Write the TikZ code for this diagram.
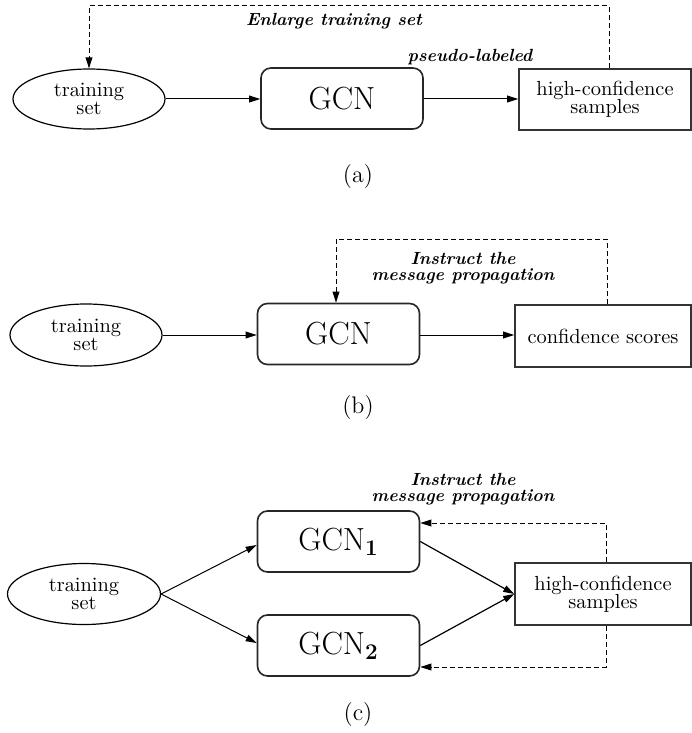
\documentclass[tikz,border=0pt]{standalone}
\usepackage{fontspec}
\usetikzlibrary{shapes.geometric,arrows.meta}
\begin{document}
\begin{tikzpicture}[x=0.5pt,y=-0.5pt,
 txt/.style={font=\fontsize{10.2}{9.2}\selectfont, align=center},
 ell/.style={ellipse, draw, line width=0.6pt, inner sep=0pt, minimum width=76pt, minimum height=30pt, txt},
 gcn/.style={rectangle, draw, rounded corners=5pt, line width=0.8pt, draw=black!85, minimum width=81pt, minimum height=30.5pt, font=\fontsize{16}{18}\selectfont},
 outbox/.style={rectangle, draw, line width=0.8pt, draw=black!80, minimum width=86pt, minimum height=30.5pt, txt},
 lab/.style={font=\fontsize{8.8}{7.8}\selectfont\bfseries\itshape, align=center, inner sep=0pt},
 arr/.style={-{Triangle[length=5.5pt,width=3.4pt]}, line width=0.5pt},
 dsh/.style={arr, dash pattern=on 2.4pt off 1.6pt},
 sublabel/.style={font=\fontsize{12}{14}\selectfont}]
\useasboundingbox (0,0) rectangle (691,733);

% ---------- (a)
\node[ell] (ta) at (89,99) {training\\set};
\node[gcn] (ga) at (342,98.5) {GCN};
\node[outbox] (ha) at (605,99.5) {high-confidence\\samples};
\draw[arr] (ta.east) -- (ga.west |- ta.east);
\draw[arr] (ga.east |- ta.east) -- (ha.west |- ta.east);
\coordinate (ua) at (609,6);
\coordinate (va) at (89,6);
\draw[dsh] (ha.north -| ua) -- (ua) -- (va) -- (ta.north);
\node[lab] (ea) at (334,21) {Enlarge training set};
\node[lab] (pa) at (470,57) {pseudo-labeled};
\node[sublabel] (ca) at (358,177) {(a)};

% ---------- (b)
\node[ell, minimum height=31pt] (tb) at (86,335) {training\\set};
\node[gcn] (gb) at (338.5,334) {GCN};
\node[outbox, minimum width=88pt, minimum height=31pt] (cb) at (603,336) {confidence scores};
\draw[arr] (tb.east) -- (gb.west |- tb.east);
\draw[arr] (gb.east |- tb.east) -- (cb.west |- tb.east);
\coordinate (ub) at (607,239);
\coordinate (vb) at (336,239);
\draw[dsh] (cb.north -| ub) -- (ub) -- (vb) -- (gb.north -| vb);
\node[lab] (ib) at (463,268) {Instruct the\\message propagation};
\node[sublabel] (cbl) at (358,408) {(b)};

% ---------- (c)
\node[ell, minimum width=76.5pt, minimum height=30.5pt] (tc) at (84,594) {training\\set};
\node[gcn] (g1) at (338.5,541.5) {GCN\textsubscript{\bfseries 1}};
\node[gcn] (g2) at (338.5,645.5) {GCN\textsubscript{\bfseries 2}};
\node[outbox, minimum width=88pt, minimum height=31pt] (hc) at (603,594) {high-confidence\\samples};
\draw[arr] (tc.east) -- (g1.west |- 0,545);
\draw[arr] (tc.east) -- (g2.west |- 0,643);
\draw[arr, line width=0.6pt] (g1.east) -- (hc.west);
\draw[arr, line width=0.6pt] (g2.east) -- (hc.west);
\coordinate (k1) at (606,523);
\coordinate (k2) at (606,667);
\draw[dsh] (hc.north -| k1) -- (k1) -- (g1.east |- k1);
\draw[dsh] (hc.south -| k2) -- (k2) -- (g2.east |- k2);
\node[lab] (ic) at (463,489) {Instruct the\\message propagation};
\node[sublabel] (ccl) at (358,715) {(c)};
\end{tikzpicture}
\end{document}
